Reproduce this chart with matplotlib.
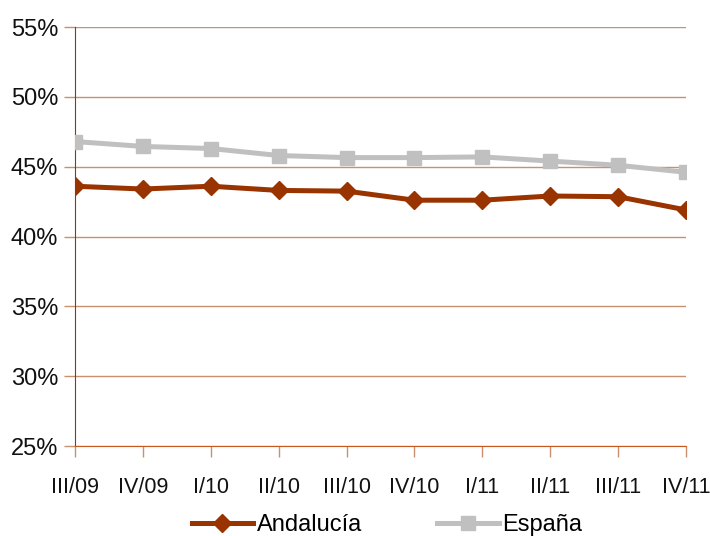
import matplotlib.pyplot as plt
from matplotlib.ticker import FuncFormatter

plt.rcParams['font.family'] = ['Liberation Sans Narrow', 'Liberation Sans', 'DejaVu Sans']

quarters = ['III/09', 'IV/09', 'I/10', 'II/10', 'III/10', 'IV/10', 'I/11', 'II/11', 'III/11', 'IV/11']
andalucia = [43.6, 43.4, 43.6, 43.3, 43.25, 42.6, 42.6, 42.9, 42.85, 41.9]
espana = [46.8, 46.45, 46.3, 45.8, 45.65, 45.65, 45.7, 45.4, 45.1, 44.6]
yticks = [25, 30, 35, 40, 45, 50, 55]

brown = '#993300'
grid_c = '#C8906E'

fig = plt.figure(figsize=(7.1, 5.36), dpi=100)
ax = fig.add_axes([0.1056, 0.1679, 0.8606, 0.7817])

x = range(len(quarters))
ax.plot(x, andalucia, color=brown, lw=3.6, marker='D', ms=9.5, label='Andalucía', zorder=3)
ax.plot(x, espana, color='#C0C0C0', lw=3.6, marker='s', ms=10.5, label='España', zorder=3)

ax.set_xlim(0, len(quarters) - 1)
ax.set_ylim(25, 55)
ax.set_yticks(yticks)
ax.yaxis.set_major_formatter(FuncFormatter(lambda v, p: '%d%%' % v))
ax.set_xticks(list(x))
ax.set_xticklabels(quarters)
ax.grid(axis='y', color=grid_c, lw=1)
ax.set_axisbelow(True)

for s in ['top', 'right']:
    ax.spines[s].set_visible(False)
ax.spines['left'].set_color(brown)
ax.spines['bottom'].set_color('#C85A20')
ax.tick_params(axis='y', colors=grid_c, length=8, width=1, labelsize=17, labelcolor='#111111', pad=4)
ax.tick_params(axis='x', colors=grid_c, length=8, width=1, labelsize=15.5, labelcolor='#111111', pad=14)

fig.legend(loc='center', bbox_to_anchor=(0.545, 0.02), ncol=2, frameon=False,
           fontsize=17, handlelength=2.6, columnspacing=3.2, handletextpad=0.15)

fig.savefig('out.png', dpi=100)
